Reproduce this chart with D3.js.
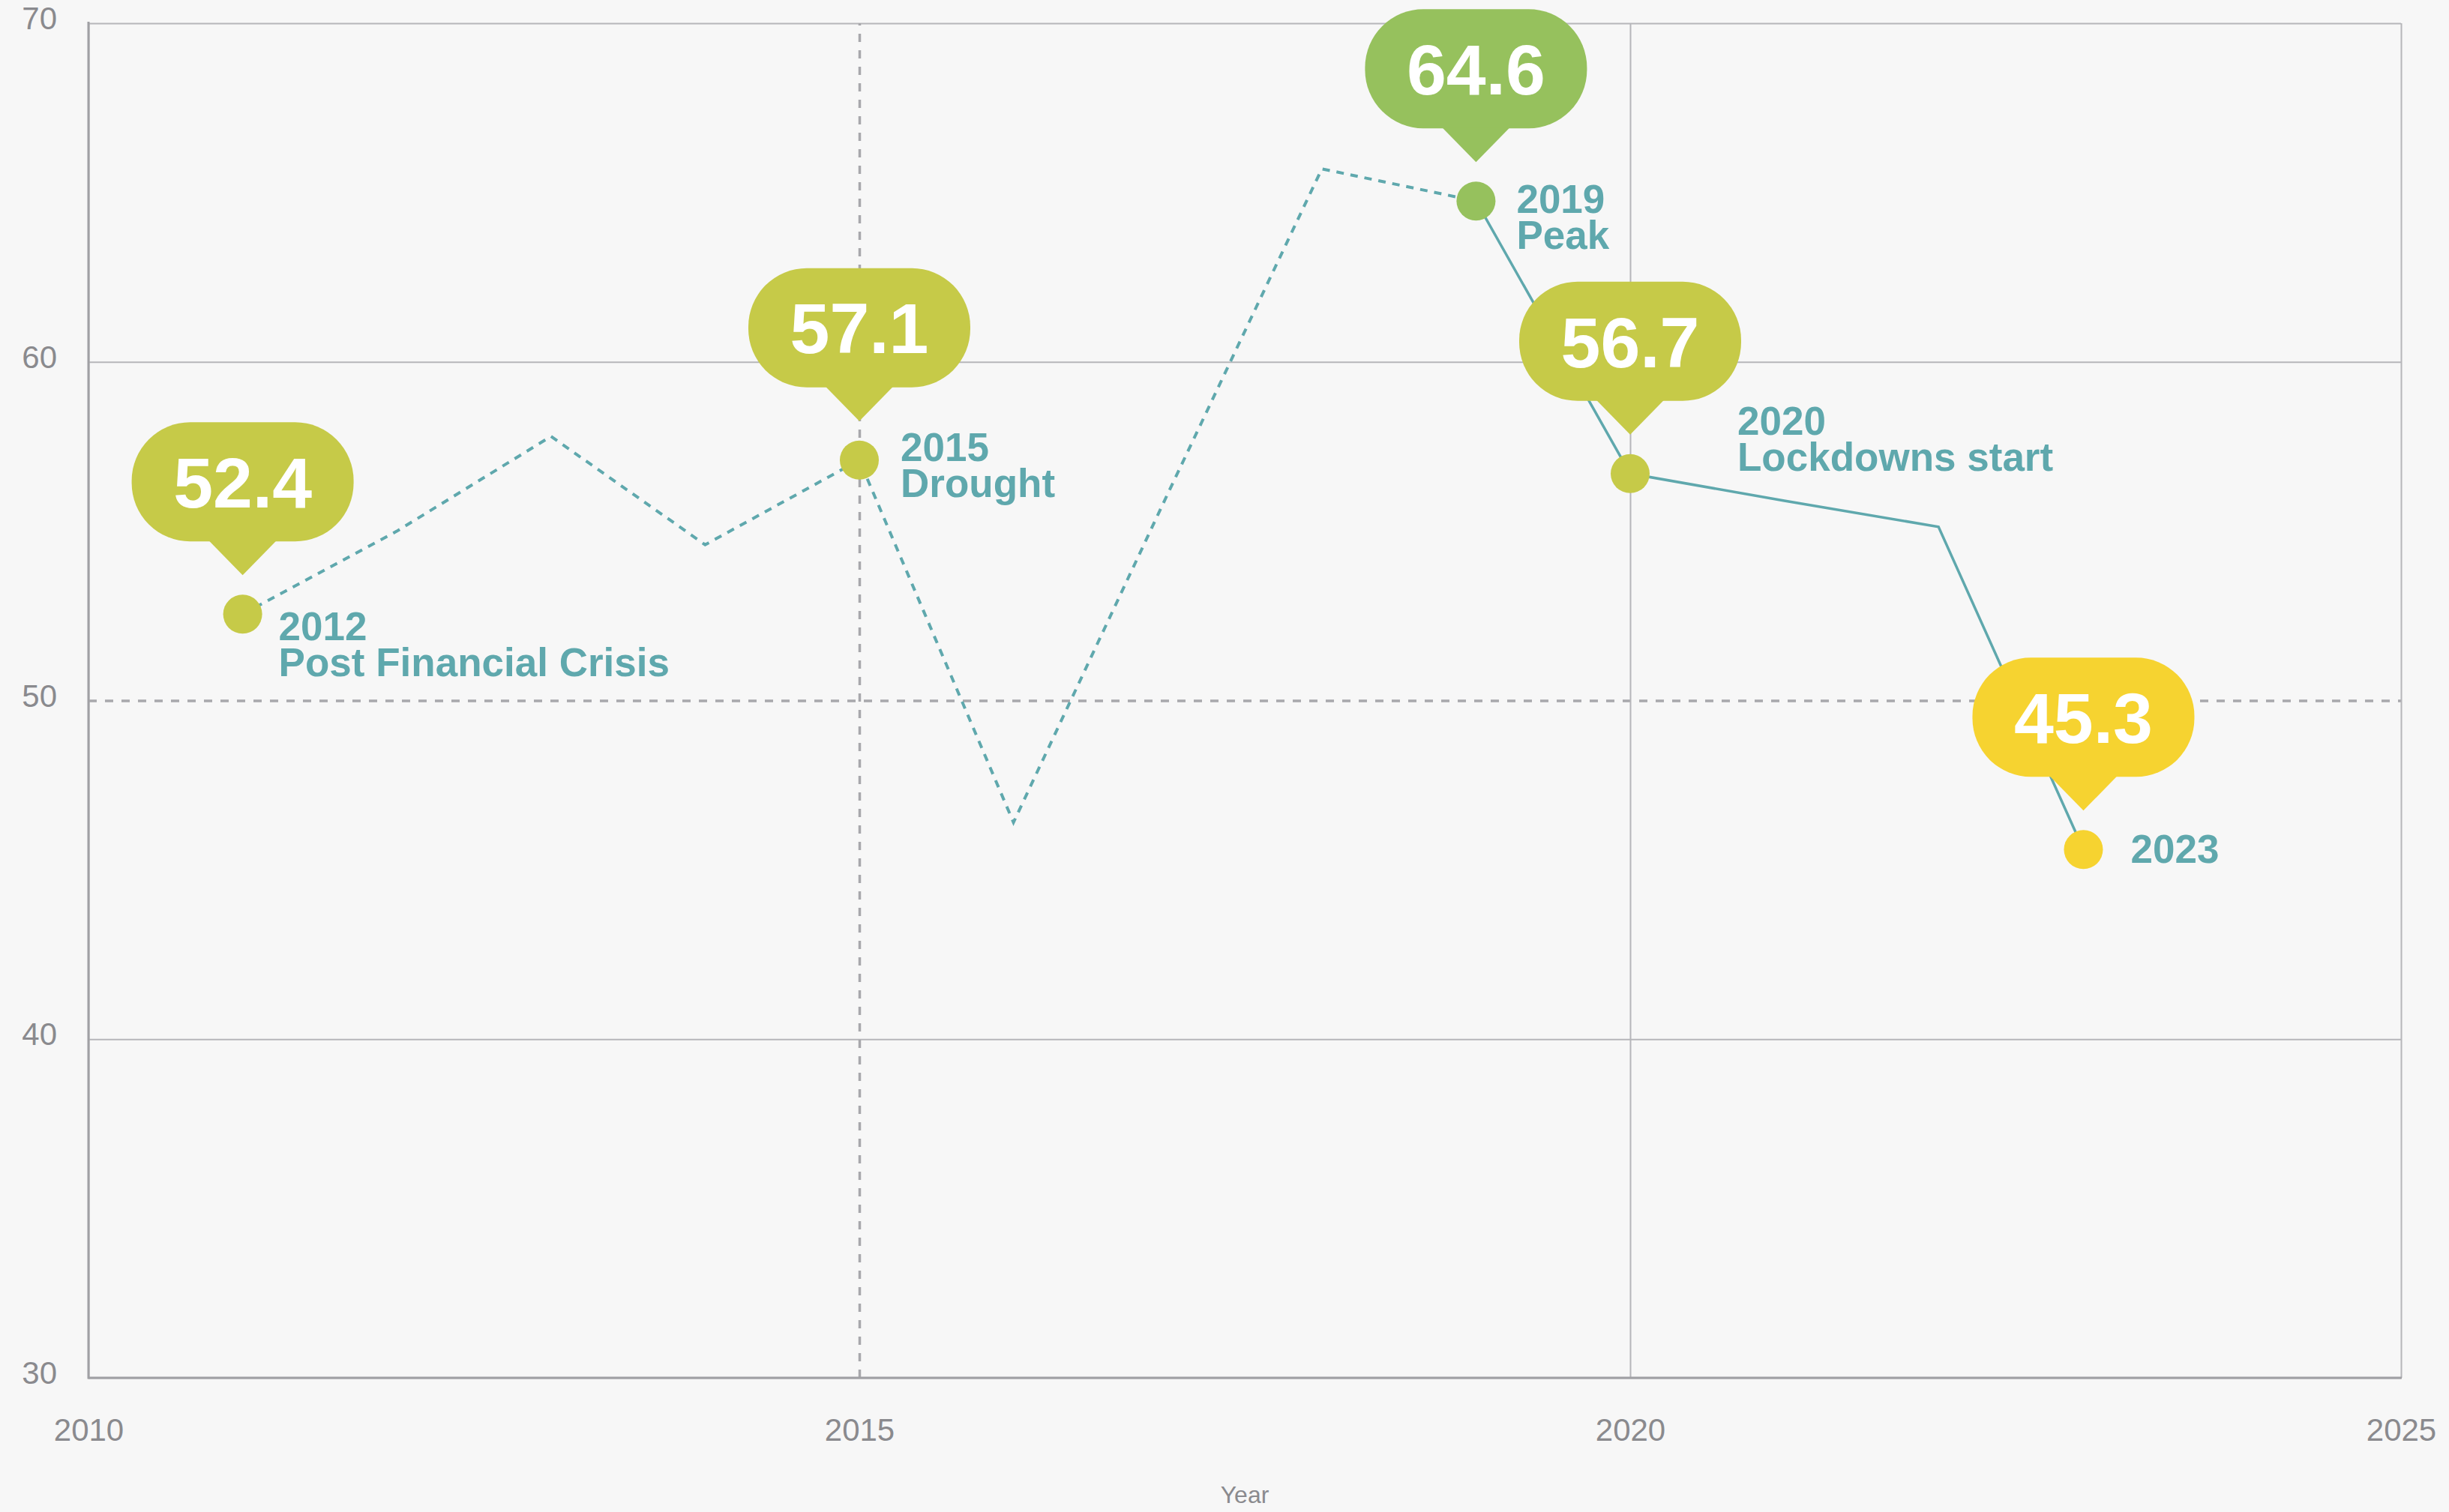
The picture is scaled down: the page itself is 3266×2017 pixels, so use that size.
<!DOCTYPE html>
<html>
<head>
<meta charset="utf-8">
<script src="https://cdn.jsdelivr.net/npm/d3@7"></script>
<style>
  html, body { margin: 0; padding: 0; background: #f7f7f7; }
  svg { display: block; }
  text { font-family: "Liberation Sans", Arial, Helvetica, sans-serif; }
</style>
</head>
<body>
<div id="chart"></div>
<script>
// series (last point sits a touch left of 2023)
var years  = [2011, 2012, 2013, 2014, 2015, 2016, 2017, 2018, 2019, 2020, 2021, 2022, 2022.94];
var values = [52.55, 55.0, 57.8, 54.6, 57.1, 46.4, 56.1, 65.7, 64.75, 56.7, 55.9, 55.13, 45.6];
var solidFrom = 2019;   // line is dashed before this year, solid after

var xTicks = [2010, 2015, 2020, 2025];
var yTicks = [30, 40, 50, 60, 70];

// call-outs
var noteIndex  = [0, 4, 8, 9, 12];   // which points of the series carry a call-out
var noteValues = ["52.4", "57.1", "64.6", "56.7", "45.3"];
var noteYearTx = ["2012", "2015", "2019", "2020", "2023"];
var noteTexts  = ["Post Financial Crisis", "Drought", "Peak", "Lockdowns start", ""];

// styling / layout of the call-outs (not data)
var noteColor  = ["#c6ca48", "#c6ca48", "#96c15d", "#c6ca48", "#f6d330"];
var noteOffset = [[48, 35], [55, 1], [54, 16], [143, -52], [63, 18]];

var W = 3266, H = 2017;
var margin = {top: 31, right: 64, bottom: 179, left: 118};
var width = W - margin.left - margin.right;
var height = H - margin.top - margin.bottom;

var teal = "#5fa8ad";
var gridCol = "#b6b6ba";
var tickCol = "#8a8a8e";

var svg = d3.select("#chart").append("svg")
    .attr("width", W)
    .attr("height", H);

svg.append("rect").attr("width", W).attr("height", H).attr("fill", "#f7f7f7");

var g = svg.append("g")
    .attr("transform", `translate(${margin.left},${margin.top})`);

var xScale = d3.scaleLinear().domain([2010, 2025]).range([0, width]);
var yScale = d3.scaleLinear().domain([30, 70]).range([height, 0]);

/* grid + axes */
var yAxis = d3.axisLeft(yScale)
    .tickValues(yTicks)
    .tickSize(-width)
    .tickPadding(42)
    .tickFormat(d3.format("d"));
var yG = g.append("g").attr("class", "yAxis").call(yAxis);
yG.select(".domain").remove();
yG.selectAll("line")
    .attr("stroke-width", d => d == 50 ? 3.5 : 2)
    .attr("stroke-dasharray", d => d == 50 ? "11,11" : null)
    .attr("stroke", d => d == 50 ? "#a8a8ac" : gridCol);
yG.selectAll("text")
    .attr("fill", tickCol)
    .attr("dy", "0.18em")
    .style("font-size", "42px");

var xAxis = d3.axisBottom(xScale)
    .tickValues(xTicks)
    .tickSize(-height)
    .tickPadding(0)
    .tickFormat(d3.format("d"));
var xG = g.append("g").attr("class", "xAxis")
    .attr("transform", `translate(0,${height})`)
    .call(xAxis);
xG.select(".domain").remove();
xG.selectAll("line")
    .attr("stroke-width", d => d == 2015 ? 3.5 : 2)
    .attr("stroke-dasharray", d => d == 2015 ? "11,11" : null)
    .attr("stroke", d => d == 2015 ? "#a8a8ac" : gridCol);
xG.selectAll("text")
    .attr("fill", tickCol)
    .attr("y", 84)
    .attr("dy", 0)
    .style("font-size", "42px");

// main axis lines
g.append("line")
    .attr("x1", 0).attr("x2", 0)
    .attr("y1", -2).attr("y2", height + 1.5)
    .attr("stroke", "#a0a0a4").attr("stroke-width", 3);
g.append("line")
    .attr("x1", 0).attr("x2", width + 1)
    .attr("y1", height).attr("y2", height)
    .attr("stroke", "#a0a0a4").attr("stroke-width", 3);

g.append("text")
    .attr("x", width / 2)
    .attr("y", height + 167)
    .attr("text-anchor", "middle")
    .attr("fill", tickCol)
    .style("font-size", "32px")
    .text("Year");

/* line */
var data = years.map((d, i) => ({year: d, value: values[i]}));
var line = d3.line().x(d => xScale(d.year)).y(d => yScale(d.value));

g.append("path")
    .datum(data.filter(d => d.year <= solidFrom))
    .attr("d", line)
    .attr("fill", "none")
    .attr("stroke", teal)
    .attr("stroke-width", 4)
    .attr("stroke-dasharray", "10,9");

g.append("path")
    .datum(data.filter(d => d.year >= solidFrom))
    .attr("d", line)
    .attr("fill", "none")
    .attr("stroke", teal)
    .attr("stroke-width", 3.5);

/* call-outs */
var notes = noteIndex.map((k, i) => ({
    year: years[k],
    value: values[k],
    label: noteValues[i],
    title: noteYearTx[i],
    text: noteTexts[i],
    color: noteColor[i],
    off: noteOffset[i]
}));

var bw = 296, bh = 159, tipW = 45;

var note = g.selectAll(".note")
    .data(notes)
    .join("g")
    .attr("class", "note")
    .attr("transform", d => `translate(${xScale(d.year)},${yScale(d.value)})`);

note.append("circle")
    .attr("r", 26)
    .attr("fill", d => d.color);

note.append("rect")
    .attr("x", -bw / 2)
    .attr("y", -97 - bh)
    .attr("width", bw)
    .attr("height", bh)
    .attr("rx", 78)
    .attr("ry", 78)
    .attr("fill", d => d.color);

note.append("path")
    .attr("d", `M${-tipW},-98 L${tipW},-98 L0,-52 Z`)
    .attr("fill", d => d.color);

note.append("text")
    .attr("x", 0)
    .attr("y", -97 - bh / 2)
    .attr("dy", "0.36em")
    .attr("text-anchor", "middle")
    .attr("fill", "#ffffff")
    .style("font-size", "95px")
    .style("font-weight", "bold")
    .text(d => d.label);

var lbl = note.append("text")
    .attr("fill", teal)
    .style("font-size", "53px")
    .style("font-weight", "bold");

lbl.append("tspan")
    .attr("x", d => d.off[0])
    .attr("y", d => d.off[1])
    .text(d => d.title);

lbl.filter(d => d.text != "")
    .append("tspan")
    .attr("x", d => d.off[0])
    .attr("y", d => d.off[1] + 48)
    .text(d => d.text);
</script>
</body>
</html>
